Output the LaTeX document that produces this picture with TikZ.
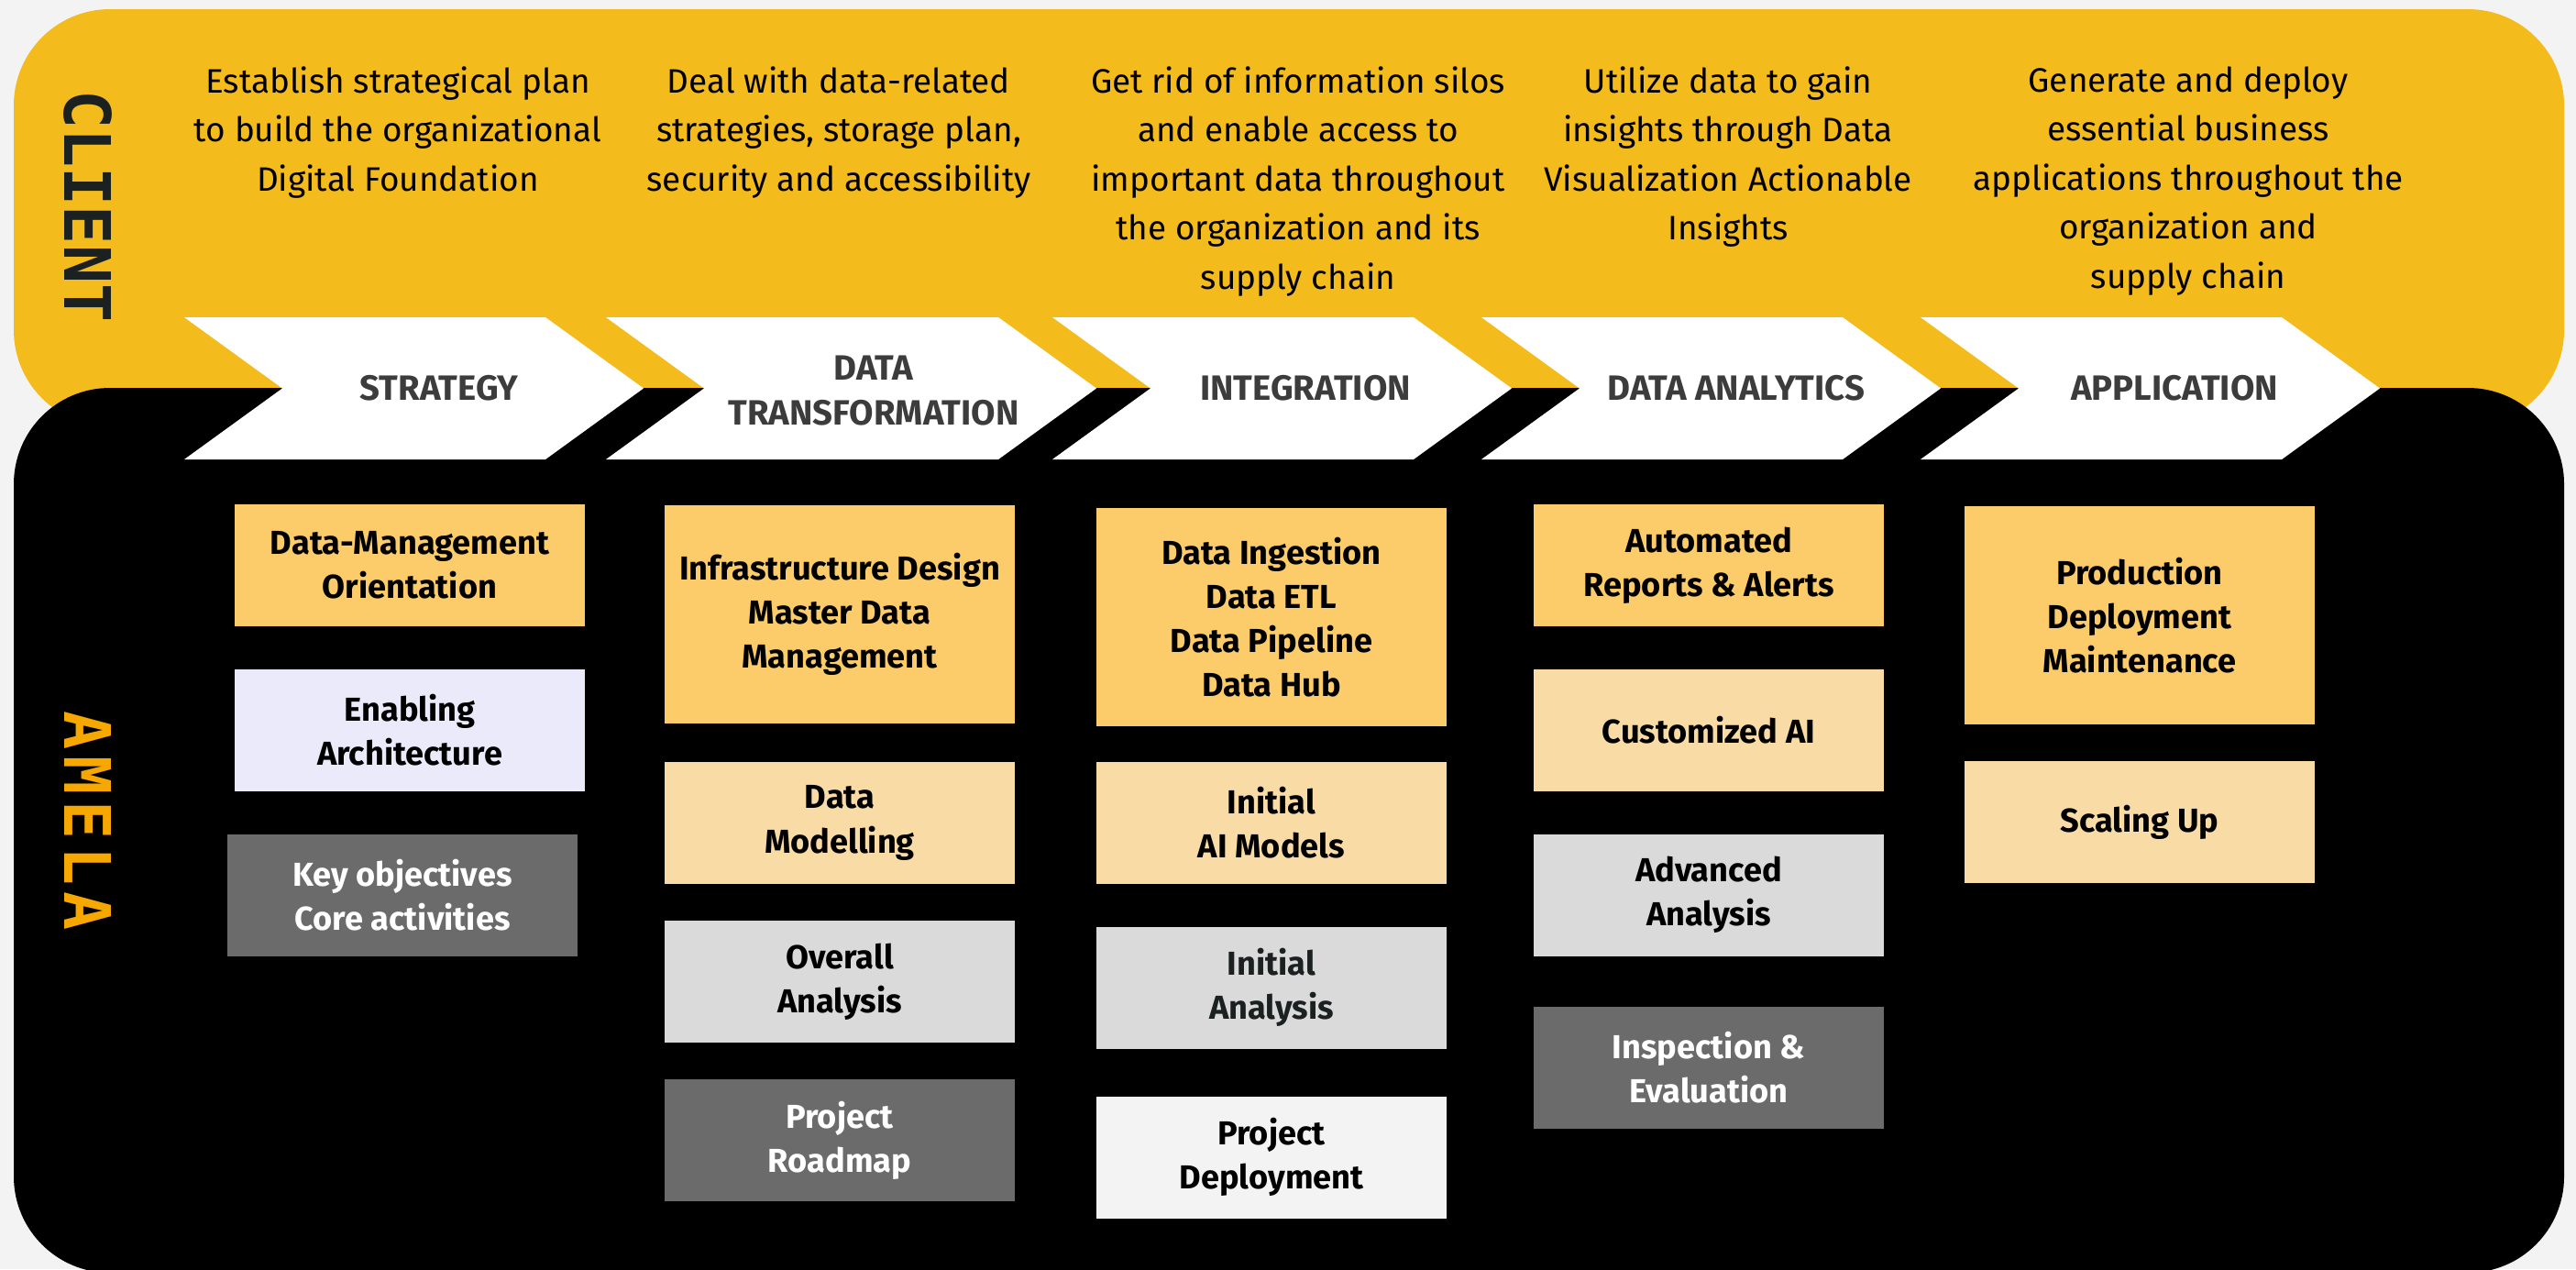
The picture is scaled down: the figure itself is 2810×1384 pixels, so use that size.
\documentclass[tikz,border=0pt]{standalone}
\usepackage{fontspec}
\usepackage{xcolor}
\setmainfont{Fira Sans}
\newfontfamily\sidefont{DejaVu Sans Mono}
\newfontfamily\amelafont[LetterSpace=10]{DejaVu Sans Mono}
\definecolor{bgcol}{HTML}{F3F3F3}
\definecolor{bandyellow}{HTML}{F4BB1C}
\definecolor{boxyellow}{HTML}{FBCC69}
\definecolor{boxpeach}{HTML}{F9DBA5}
\definecolor{boxlilac}{HTML}{EAEAFB}
\definecolor{boxlight}{HTML}{DADADA}
\definecolor{boxdark}{HTML}{6B6B6B}
\definecolor{boxwhite}{HTML}{F3F3F3}
\definecolor{stagetext}{HTML}{3C3C3C}
\definecolor{amelaorange}{HTML}{F6A800}
\definecolor{clientdark}{HTML}{1B2020}

\begin{document}
\begin{tikzpicture}[x=0.1mm,y=-0.1mm]
        \def\top{346}
        \def\tip{107}
        \tikzstyle{place}=[rectangle, minimum width=38.2mm, minimum height=13.3mm, inner sep=0pt, align=center, font=\fontsize{10.3}{13.7}\selectfont\bfseries, text=black]
        \tikzstyle{tall}=[minimum height=23.8mm]
        \tikzstyle{dark}=[fill=boxdark, text=white]
        \tikzstyle{goal}=[anchor=north, inner sep=0pt, align=center, font=\fontsize{10.5}{15.2}\selectfont, text=black]
        \tikzstyle{stage}=[align=center, inner sep=0pt, font=\fontsize{10.9}{13.7}\selectfont\bfseries, text=stagetext]
        
        % Bands
        \useasboundingbox[fill=bgcol] (0,0) rectangle (2810,1384);
        \fill[bandyellow, rounded corners=10.5mm] (15,10) rectangle (2797,465);
        \fill[black, rounded corners=10.5mm] (15,423) rectangle (2797,1388);
        
        \node[rotate=-90, inner sep=0pt, font=\sidefont\bfseries\fontsize{19.9}{20}\selectfont, text=clientdark] (client) at (96,225) {CLIENT};
        \node[rotate=-90, inner sep=0pt, font=\amelafont\bfseries\fontsize{19.9}{20}\selectfont, text=amelaorange] (amela) at (96,895) {AMELA};
        
        % Goals
        \node[goal] (g1) at (434,72) {Establish strategical plan\\to build the organizational\\Digital Foundation};
        \node[goal] (g2) at (915,72) {Deal with data-related\\strategies, storage plan,\\security and accessibility};
        \node[goal] (g3) at (1416,72) {Get rid of information silos\\and enable access to\\important data throughout\\the organization and its\\supply chain};
        \node[goal] (g4) at (1885,72) {Utilize data to gain\\insights through Data\\Visualization Actionable\\Insights};
        \node[goal] (g5) at (2387,72) {Generate and deploy\\essential business\\applications throughout the\\organization and\\supply chain};
        
        % Stages
        \foreach \x/\w in {201/394, 661/428, 1148/394, 1616/394, 2095/394}
            \fill[white] (\x,\top) -- ++(\w,0) -- ++(\tip,77.5) -- ++(-\tip,77.5) -- ++(-\w,0) -- ++(\tip,-77.5) -- cycle;
        
        \node[stage] (strategy) at (479,423) {STRATEGY};
        \node[stage] (transform) at (953,426) {DATA\\TRANSFORMATION};
        \node[stage] (integration) at (1424,423) {INTEGRATION};
        \node[stage] (analytics) at (1894,423) {DATA ANALYTICS};
        \node[stage] (application) at (2372,423) {APPLICATION};
        
        % Strategy column
        \node[place, fill=boxyellow] (orient) at (447,616.5) {Data-Management\\Orientation};
        \node[place, fill=boxlilac] (arch) at (447,796) {Enabling\\Architecture};
        \node[place, dark] (keyobj) at (439,976.5) {Key objectives\\Core activities};
        
        % Data transformation column
        \node[place, tall, fill=boxyellow] (infra) at (916,669.5) {Infrastructure Design\\Master Data\\Management};
        \node[place, fill=boxpeach] (model) at (916,897.5) {Data\\Modelling};
        \node[place, fill=boxlight] (overall) at (916,1070.5) {Overall\\Analysis};
        \node[place, dark] (roadmap) at (916,1243.5) {Project\\Roadmap};
        
        % Integration column
        \node[place, tall, fill=boxyellow] (ingest) at (1387,673) {Data Ingestion\\Data ETL\\Data Pipeline\\Data Hub};
        \node[place, fill=boxpeach] (aimodels) at (1387,897) {Initial\\AI Models};
        \node[place, fill=boxlight, text=clientdark] (initanalysis) at (1387,1077) {Initial\\Analysis};
        \node[place, fill=boxwhite] (deploy) at (1387,1262) {Project\\Deployment};
        
        % Data analytics column
        \node[place, fill=boxyellow] (reports) at (1864,616.5) {Automated\\Reports \& Alerts};
        \node[place, fill=boxpeach] (customai) at (1864,796) {Customized AI};
        \node[place, fill=boxlight] (advanced) at (1864,976) {Advanced\\Analysis};
        \node[place, dark] (inspect) at (1864,1164) {Inspection \&\\Evaluation};
        
        % Application column
        \node[place, tall, fill=boxyellow] (production) at (2334,671) {Production\\Deployment\\Maintenance};
        \node[place, fill=boxpeach] (scaling) at (2334,896.5) {Scaling Up};
        
    \end{tikzpicture}
\end{document}
